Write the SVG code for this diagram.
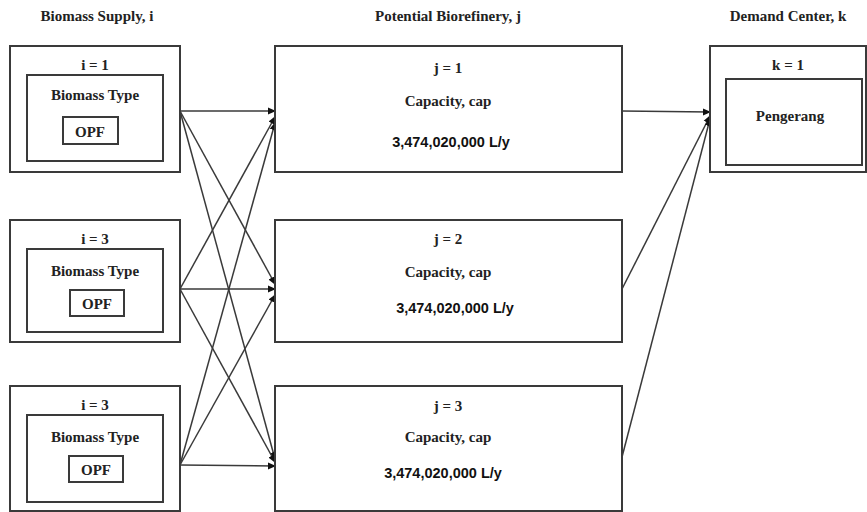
<svg xmlns="http://www.w3.org/2000/svg" width="867" height="512" viewBox="0 0 867 512">
<style>
.box{fill:#fff;stroke:#3a3a3a;stroke-width:2}
.t{font-family:"Liberation Serif","Times New Roman",serif;font-weight:bold;font-size:15px;fill:#222;text-anchor:middle}
.h{font-family:"Liberation Serif","Times New Roman",serif;font-weight:bold;font-size:15px;fill:#222;text-anchor:middle}
.n{font-family:"Liberation Sans",Arial,sans-serif;font-weight:bold;font-size:14.5px;fill:#111;text-anchor:middle}
.c{stroke:#3a3a3a;stroke-width:1.5;fill:none;marker-end:url(#ah)}
</style>
<defs>
<marker id="ah" markerWidth="8" markerHeight="8" refX="7" refY="4" orient="auto" markerUnits="userSpaceOnUse">
<path d="M0,0.5 L8,4 L0,7.5 Z" fill="#111"/>
</marker>
</defs>
<rect width="867" height="512" fill="#fff"/>
<text class="h" x="97" y="21">Biomass Supply, i</text>
<text class="h" x="448" y="21">Potential Biorefinery, j</text>
<text class="h" x="788" y="21">Demand Center, k</text>

<g id="connectors">
<line class="c" x1="180" y1="111" x2="275" y2="111"/>
<line class="c" x1="180" y1="111" x2="275" y2="284"/>
<line class="c" x1="180" y1="111" x2="275" y2="459"/>
<line class="c" x1="180" y1="289" x2="275" y2="117"/>
<line class="c" x1="180" y1="289" x2="275" y2="289"/>
<line class="c" x1="180" y1="289" x2="275" y2="462"/>
<line class="c" x1="180" y1="465" x2="275" y2="123"/>
<line class="c" x1="180" y1="465" x2="275" y2="295"/>
<line class="c" x1="180" y1="465" x2="275" y2="466"/>
<line class="c" x1="622" y1="111" x2="710" y2="112"/>
<line class="c" x1="622" y1="289" x2="710" y2="116"/>
<line class="c" x1="622" y1="457" x2="710" y2="119"/>
</g>

<g id="supply1">
<rect class="box" x="10" y="46" width="170" height="126"/>
<text class="t" x="95" y="70">i = 1</text>
<rect class="box" x="27" y="75" width="136" height="86"/>
<text class="t" x="95" y="100">Biomass Type</text>
<rect class="box" x="63" y="117" width="55" height="27"/>
<text class="t" x="90" y="137">OPF</text>
</g>
<g id="supply2">
<rect class="box" x="10" y="220" width="170" height="122"/>
<text class="t" x="95" y="244">i = 3</text>
<rect class="box" x="27" y="249" width="136" height="83"/>
<text class="t" x="95" y="276">Biomass Type</text>
<rect class="box" x="70" y="290" width="54" height="26"/>
<text class="t" x="97" y="309">OPF</text>
</g>
<g id="supply3">
<rect class="box" x="10" y="386" width="170" height="125"/>
<text class="t" x="95" y="410">i = 3</text>
<rect class="box" x="27" y="415" width="136" height="87"/>
<text class="t" x="95" y="442">Biomass Type</text>
<rect class="box" x="69" y="456" width="54" height="26"/>
<text class="t" x="96" y="475">OPF</text>
</g>

<g id="refinery1">
<rect class="box" x="275" y="46" width="347" height="126"/>
<text class="t" x="448" y="73">j = 1</text>
<text class="t" x="448" y="106">Capacity, cap</text>
<text class="n" x="451" y="147">3,474,020,000 L/y</text>
</g>
<g id="refinery2">
<rect class="box" x="275" y="220" width="347" height="122"/>
<text class="t" x="448" y="244">j = 2</text>
<text class="t" x="448" y="277">Capacity, cap</text>
<text class="n" x="455" y="313">3,474,020,000 L/y</text>
</g>
<g id="refinery3">
<rect class="box" x="275" y="386" width="347" height="125"/>
<text class="t" x="448" y="411">j = 3</text>
<text class="t" x="448" y="442">Capacity, cap</text>
<text class="n" x="443" y="478">3,474,020,000 L/y</text>
</g>

<g id="demand1">
<rect class="box" x="710" y="46" width="156" height="126"/>
<text class="t" x="788" y="70">k = 1</text>
<rect class="box" x="726" y="79" width="136" height="86"/>
<text class="t" x="790" y="121">Pengerang</text>
</g>
</svg>
